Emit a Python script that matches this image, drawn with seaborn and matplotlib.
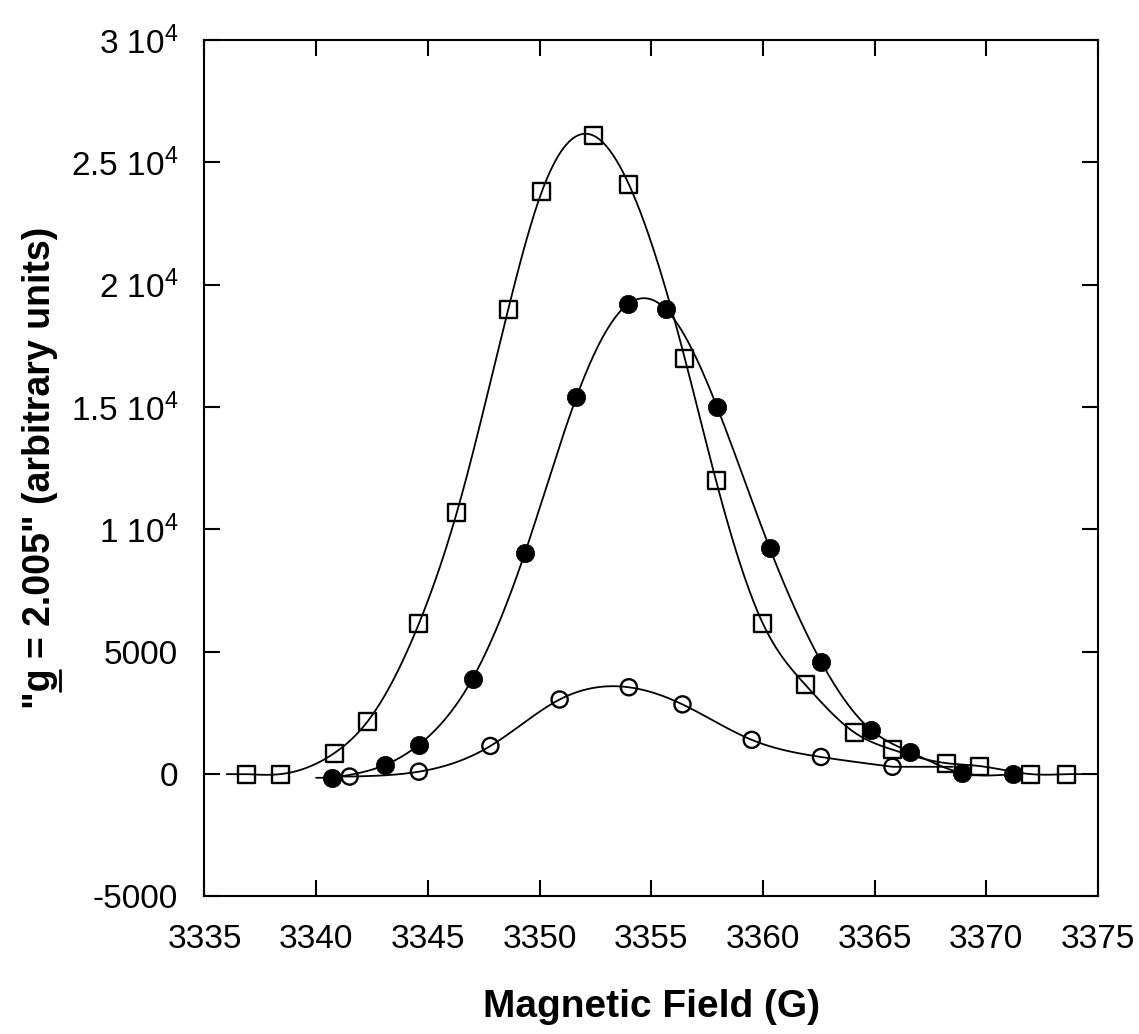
import numpy as np
import pandas as pd
import matplotlib
matplotlib.use("Agg")
import matplotlib.pyplot as plt
from matplotlib.lines import Line2D
from matplotlib.text import Text
import seaborn as sns

# ---- data ----
sq_x = [3336.9, 3338.4, 3340.8, 3342.3, 3344.6, 3346.3, 3348.6, 3350.1, 3352.4, 3354.0,
        3356.5, 3357.9, 3360.0, 3361.9, 3364.1, 3365.8, 3368.2, 3369.7, 3372.0, 3373.6]
sq_y = [0, 0, 850, 2150, 6150, 10700, 19000, 23800, 26100, 24100,
        17000, 12000, 6150, 3650, 1700, 1000, 450, 330, 0, 0]

fc_x = [3340.7, 3343.1, 3344.6, 3347.0, 3349.35, 3351.65, 3353.95, 3355.65, 3357.95,
        3360.3, 3362.6, 3364.85, 3366.6, 3368.9, 3371.2]
fc_y = [-150, 380, 1200, 3900, 9050, 15400, 19200, 19000, 15000,
        9250, 4600, 1800, 900, 50, 0]

oc_x = [3341.5, 3344.6, 3347.8, 3350.9, 3354.0, 3356.4, 3359.5, 3362.6, 3365.8]
oc_y = [-100, 100, 1150, 3050, 3550, 2850, 1400, 700, 300]

x_ticks = [3335, 3340, 3345, 3350, 3355, 3360, 3365, 3370, 3375]
y_ticks = [-5000, 0, 5000, 10000, 15000, 20000, 25000, 30000]
y_tick_labels = ["-5000", "0", "5000", r"1 10$^{4}$", r"1.5 10$^{4}$",
                 r"2 10$^{4}$", r"2.5 10$^{4}$", r"3 10$^{4}$"]
x_label = "Magnetic Field (G)"
y_label = '"g = 2.005" (arbitrary units)'
underlined_char = "g"

# curve drawing spans (x range of each fitted line)
spans = {"sq": (3336.0, 3375.0), "fc": (3340.0, 3371.2), "oc": (3340.6, 3368.5)}


def natural_spline(xk, yk, xs):
    xk = np.asarray(xk, float); yk = np.asarray(yk, float)
    n = len(xk); h = np.diff(xk)
    A = np.zeros((n, n)); b = np.zeros(n)
    A[0, 0] = 1; A[-1, -1] = 1
    for i in range(1, n - 1):
        A[i, i - 1] = h[i - 1]; A[i, i] = 2 * (h[i - 1] + h[i]); A[i, i + 1] = h[i]
        b[i] = 6 * ((yk[i + 1] - yk[i]) / h[i] - (yk[i] - yk[i - 1]) / h[i - 1])
    M = np.linalg.solve(A, b)
    xs = np.clip(xs, xk[0], xk[-1])
    idx = np.clip(np.searchsorted(xk, xs) - 1, 0, n - 2)
    x0 = xk[idx]; x1 = xk[idx + 1]; hh = x1 - x0
    a = (x1 - xs) / hh; bb = (xs - x0) / hh
    return (a * yk[idx] + bb * yk[idx + 1]
            + ((a**3 - a) * M[idx] + (bb**3 - bb) * M[idx + 1]) * hh**2 / 6)


sns.set_theme(style="ticks")
plt.rcParams["font.family"] = ["Liberation Sans", "DejaVu Sans"]
plt.rcParams["mathtext.fontset"] = "custom"
plt.rcParams["mathtext.rm"] = "Liberation Sans"
plt.rcParams["mathtext.it"] = "Liberation Sans:italic"
plt.rcParams["mathtext.bf"] = "Liberation Sans:bold"
plt.rcParams["text.color"] = "black"
plt.rcParams["axes.labelcolor"] = "black"

fig = plt.figure(figsize=(11.39, 10.34), dpi=100)
ax = fig.add_axes([0.1795, 0.133, 0.7845, 0.8283])

series = [("sq", sq_x, sq_y, "s", "none"),
          ("fc", fc_x, fc_y, "o", "black"),
          ("oc", oc_x, oc_y, "o", "none")]

for key, xs, ys, mk, fcol in series:
    lo, hi = spans[key]
    gx = np.linspace(lo, hi, 800)
    gy = natural_spline(xs, ys, gx)
    sns.lineplot(x=gx, y=gy, ax=ax, color="black", linewidth=1.3,
                 sort=False, estimator=None, zorder=2)

for key, xs, ys, mk, fcol in series:
    df = pd.DataFrame({"x": xs, "y": ys})
    if fcol == "none":
        ax.scatter(df["x"], df["y"], marker=mk, s=150 if mk == "s" else 135,
                   facecolors="none", edgecolors="black", linewidths=1.7, zorder=3)
    else:
        sns.scatterplot(data=df, x="x", y="y", ax=ax, marker=mk, s=175,
                        color="black", edgecolor="black", linewidth=0.5, zorder=4)

ax.set_xlim(3335, 3375)
ax.set_ylim(-5000, 30000)
ax.set_xticks(x_ticks)
ax.set_xticklabels([str(t) for t in x_ticks])
ax.set_yticks(y_ticks)
ax.set_yticklabels(y_tick_labels)

for s in ax.spines.values():
    s.set_linewidth(1.5)
    s.set_color("black")
ax.tick_params(direction="in", length=11.5, width=1.5, colors="black",
               labelcolor="black", labelsize=24, top=True, right=True)
ax.tick_params(axis="x", pad=20)
ax.tick_params(axis="y", pad=19)

ax.set_xlabel(x_label, fontsize=28, fontweight="bold", labelpad=24, color="black")
ylab = ax.set_ylabel(y_label, fontsize=27, fontweight="bold", labelpad=9, color="black")

# underline the "g" in the rotated y label
fig.canvas.draw()
renderer = fig.canvas.get_renderer()
bb = ylab.get_window_extent(renderer)
i = y_label.index(underlined_char)


def text_width(s):
    t = Text(0, 0, s, fontsize=27, fontweight="bold", figure=fig,
             fontfamily=["Liberation Sans", "DejaVu Sans"])
    return t.get_window_extent(renderer).width


w_pre = text_width(y_label[:i])
w_inc = text_width(y_label[:i + 1])
y0 = bb.y0 + w_pre + 1
y1 = bb.y0 + w_inc - 1
xline = bb.x1 + 2
inv = fig.transFigure.inverted()
p0 = inv.transform((xline, y0)); p1 = inv.transform((xline, y1))
fig.add_artist(Line2D([p0[0], p1[0]], [p0[1], p1[1]], transform=fig.transFigure,
                      color="black", linewidth=2.0))

fig.savefig("out.png", dpi=100, facecolor="white")
